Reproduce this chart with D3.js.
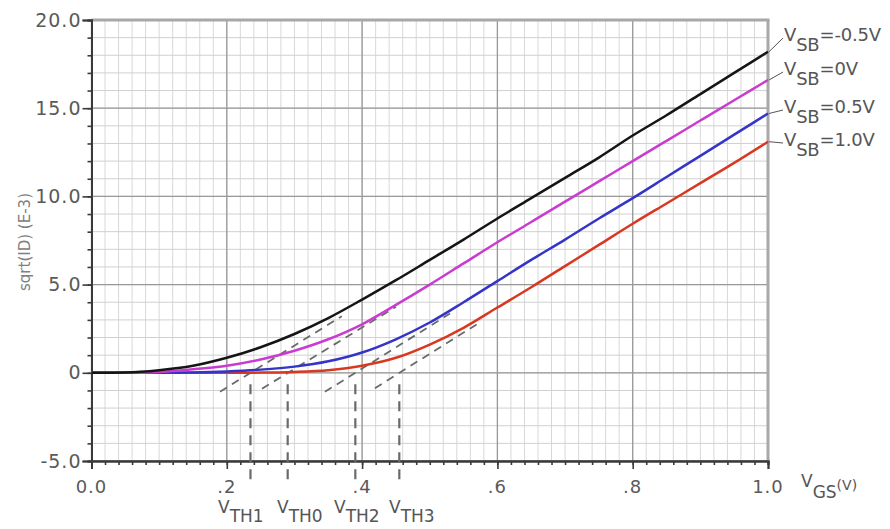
<!DOCTYPE html>
<html>
<head>
<meta charset="utf-8">
<script src="https://cdn.jsdelivr.net/npm/d3@7"></script>
<style>
  html, body { margin: 0; padding: 0; background: #fff; }
  svg { display: block; }
  text { font-family: "DejaVu Sans", Verdana, sans-serif; }
</style>
</head>
<body>
<svg id="chart" width="890" height="529"></svg>
<script>
// ---------------- data ----------------
const vgs = [0.00,0.05,0.10,0.15,0.20,0.25,0.30,0.35,0.40,0.45,0.50,0.55,0.60,0.65,0.70,0.75,0.80,0.85,0.90,0.95,1.00];
const sqrtIdVsbM05 = [0,0.02,0.15,0.40,0.85,1.45,2.20,3.10,4.15,5.25,6.40,7.55,8.75,9.90,11.05,12.20,13.45,14.60,15.80,17.00,18.20];
const sqrtIdVsb0   = [0,0.00,0.05,0.20,0.40,0.75,1.25,1.90,2.75,3.85,5.00,6.20,7.40,8.55,9.70,10.85,12.00,13.15,14.30,15.45,16.60];
const sqrtIdVsb05  = [0,0.00,0.00,0.02,0.08,0.18,0.35,0.65,1.15,1.90,2.85,4.00,5.20,6.40,7.55,8.75,9.90,11.10,12.30,13.50,14.70];
const sqrtIdVsb10  = [0,0.00,0.00,0.00,0.00,0.01,0.05,0.15,0.40,0.85,1.60,2.55,3.70,4.85,6.05,7.25,8.45,9.60,10.75,11.90,13.10];
const seriesNames  = ["-0.5V","0V","0.5V","1.0V"];
const seriesColors = ["#151515","#c93cd0","#3434c8","#d8381f"];

// threshold voltages and their tangent (extrapolation) lines [x0, y0, x1, y1]
const vthNames  = ["TH1","TH0","TH2","TH3"];
const vthValues = [0.235,0.29,0.39,0.455];
const tangentLines = [
  [0.190,-1.07,0.370,3.21],
  [0.252,-0.90,0.450,3.74],
  [0.345,-1.08,0.530,3.36],
  [0.419,-0.87,0.570,2.76]
];
const vthDropTop = -0.65, vthDropBottom = -6.25;

const xTickValues = [0,0.2,0.4,0.6,0.8,1.0];
const xTickLabels = ["0.0",".2",".4",".6",".8","1.0"];
const yTickValues = [-5,0,5,10,15,20];
const yTickLabels = ["-5.0","0","5.0","10.0","15.0","20.0"];

// ---------------- chart ----------------
const svg = d3.select("#chart");
const L = 91.5, R = 768, T = 20, B = 461;
const x = d3.scaleLinear().domain([0,1]).range([L,R]);
const y = d3.scaleLinear().domain([-5,20]).range([B,T]);

// minor grid
const g = svg.append("g");
g.selectAll(".vminor").data(d3.range(0,1.0001,0.02)).join("line")
  .attr("x1", d=>x(d)).attr("x2", d=>x(d)).attr("y1", T).attr("y2", B)
  .attr("stroke", "#d8d8d8").attr("stroke-width", 1);
g.selectAll(".hminor").data(d3.range(-5,20.001,1)).join("line")
  .attr("x1", L).attr("x2", R).attr("y1", d=>y(d)).attr("y2", d=>y(d))
  .attr("stroke", "#d0d0d0").attr("stroke-width", 1);
// major grid
g.selectAll(".vmajor").data(xTickValues).join("line")
  .attr("x1", d=>x(d)).attr("x2", d=>x(d)).attr("y1", T).attr("y2", B)
  .attr("stroke", "#999").attr("stroke-width", 1.3);
g.selectAll(".hmajor").data(yTickValues).join("line")
  .attr("x1", L).attr("x2", R).attr("y1", d=>y(d)).attr("y2", d=>y(d))
  .attr("stroke", "#999").attr("stroke-width", 1.3);

// frame top & right (light thick)
svg.append("line").attr("x1", L).attr("x2", R+1.5).attr("y1", T).attr("y2", T)
  .attr("stroke", "#a8a8a8").attr("stroke-width", 3);
svg.append("line").attr("x1", R).attr("x2", R).attr("y1", T).attr("y2", B)
  .attr("stroke", "#a8a8a8").attr("stroke-width", 3);

// axes with ticks
const axisColor = "#3a3a3a";
const yMinor = d3.axisLeft(y).tickValues(d3.range(-5,20.001,1)).tickSize(4).tickFormat("");
const yMajor = d3.axisLeft(y).tickValues(yTickValues).tickSize(9).tickPadding(1)
  .tickFormat((d,i)=>yTickLabels[i]);
const xMinor = d3.axisBottom(x).tickValues(d3.range(0,1.0001,0.02)).tickSize(4).tickFormat("");
const xMajor = d3.axisBottom(x).tickValues(xTickValues).tickSize(8).tickFormat("");

function styleAxis(sel) {
  sel.select(".domain").attr("stroke", axisColor).attr("stroke-width", 2);
  sel.selectAll(".tick line").attr("stroke", axisColor).attr("stroke-width", 1.6);
}
svg.append("g").attr("transform", `translate(${L},0)`).call(yMinor).call(styleAxis);
const ya = svg.append("g").attr("transform", `translate(${L},0)`).call(yMajor).call(styleAxis);
ya.selectAll("text").attr("fill", "#5a5a5a").attr("font-size", 19)
  .attr("letter-spacing", 1).attr("font-family", '"DejaVu Sans", sans-serif');
svg.append("g").attr("transform", `translate(0,${B})`).call(xMinor).call(styleAxis);
svg.append("g").attr("transform", `translate(0,${B})`).call(xMajor).call(styleAxis);

// x tick labels
svg.selectAll(".xlab").data(xTickValues).join("text")
  .attr("x", d=>x(d)).attr("y", 493).attr("text-anchor", "middle")
  .attr("fill", "#5a5a5a").attr("font-size", 18).attr("letter-spacing", 1)
  .text((d,i)=>xTickLabels[i]);

// y axis title
svg.append("text")
  .attr("transform", "translate(30,242) rotate(-90)")
  .attr("text-anchor", "middle").attr("fill", "#808080").attr("font-size", 15)
  .text("sqrt(ID) (E-3)");

// x axis title V_GS(V)
const xt = svg.append("text").attr("x", 801).attr("y", 487).attr("fill", "#555").attr("font-size", 17);
xt.append("tspan").text("V");
xt.append("tspan").attr("dy", 11).text("GS");
xt.append("tspan").attr("dy", -8).attr("font-size", 14).text("(V)");

// dashed tangent lines & vertical threshold markers
const dashColor = "#6a6a6a";
svg.selectAll(".tan").data(tangentLines).join("line")
  .attr("x1", d=>x(d[0])).attr("y1", d=>y(d[1]))
  .attr("x2", d=>x(d[2])).attr("y2", d=>y(d[3]))
  .attr("stroke", dashColor).attr("stroke-width", 1.8).attr("stroke-dasharray", "8,6");
svg.selectAll(".vth").data(vthValues).join("line")
  .attr("x1", d=>x(d)).attr("x2", d=>x(d))
  .attr("y1", y(vthDropTop)).attr("y2", y(vthDropBottom))
  .attr("stroke", dashColor).attr("stroke-width", 2.2).attr("stroke-dasharray", "10,7");

// curves
const allSeries = [sqrtIdVsbM05, sqrtIdVsb0, sqrtIdVsb05, sqrtIdVsb10];
const line = d3.line().x(d=>x(d[0])).y(d=>y(d[1])).curve(d3.curveMonotoneX);
[3,2,1,0].forEach(i=>{
  svg.append("path")
    .datum(vgs.map((v,k)=>[v, allSeries[i][k]]))
    .attr("d", line).attr("fill", "none")
    .attr("stroke", seriesColors[i]).attr("stroke-width", 2.5)
    .attr("stroke-linejoin", "round");
});

// right-side labels with leader lines
const labelBase = [41, 75, 113, 146];
allSeries.forEach((s,i)=>{
  const endY = y(s[s.length-1]);
  svg.append("line")
    .attr("x1", R+1).attr("y1", endY)
    .attr("x2", 783).attr("y2", labelBase[i]-3)
    .attr("stroke", "#555").attr("stroke-width", 1);
  const t = svg.append("text").attr("x", 784).attr("y", labelBase[i])
    .attr("fill", "#555").attr("font-size", 18).attr("letter-spacing", -0.2);
  t.append("tspan").text("V");
  t.append("tspan").attr("dy", 10).text("SB");
  t.append("tspan").attr("dy", -10).text("=" + seriesNames[i]);
});

// threshold labels
const vthLabelX = [218, 277, 334, 389];
vthValues.forEach((v,i)=>{
  const t = svg.append("text").attr("x", vthLabelX[i]).attr("y", 513)
    .attr("fill", "#555").attr("font-size", 17);
  t.append("tspan").text("V");
  t.append("tspan").attr("dy", 9).text(vthNames[i]);
});
</script>
</body>
</html>
